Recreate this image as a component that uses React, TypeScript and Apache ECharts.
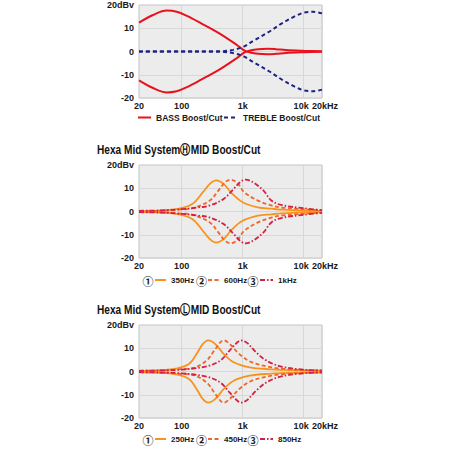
import React, { useEffect, useRef } from 'react';
import * as echarts from 'echarts';

const FONT = "'Liberation Sans', Arial, sans-serif";

// x tick labels (Hz) and y tick labels (dB)
const xTickLabels: Record<number, string> = { 20: '20', 100: '100', 1000: '1k', 10000: '{l|10k}', 20000: '{r|20kHz}' };
const yTickLabels: Record<string, string> = { '20': '20dBv', '10': '10', '0': '0', '-10': '-10', '-20': '-20' };

// ---- Chart 1: BASS / TREBLE ----
const bassFreq = [20, 34, 57, 83, 122, 209, 408, 796, 1040, 1330, 1800, 2500, 3500, 5100, 10000, 20000];
const bassBoost = [12.4, 15.7, 17.6, 17.1, 15.3, 12.1, 7.9, 2.9, 0.6, -0.4, -1.0, -1.2, -1.0, -0.6, -0.3, -0.1];
const trebleFreq = [20, 100, 300, 500, 700, 1040, 1520, 2760, 4400, 7400, 10000, 14000, 20000];
const trebleBoost = [0, 0, 0, 0.2, 0.7, 2.1, 4.7, 8.6, 12.1, 15.3, 16.7, 17.1, 16.4];

// ---- Chart 2: H MID ----
const hmid350Freq = [20, 43, 91, 151, 223, 290, 367, 488, 676, 1000, 1780, 2960, 4300, 10000, 20000];
const hmid350 = [0.2, 0.4, 1.2, 3.3, 8.3, 11.9, 13.4, 11.9, 7.6, 4.0, 1.8, 1.2, 0.8, 0.4, 0.3];
const hmid600Freq = [20, 50, 100, 151, 290, 400, 517, 633, 820, 1060, 1780, 2960, 4300, 10000, 20000];
const hmid600 = [0.2, 0.4, 0.9, 1.4, 4.7, 9.0, 12.6, 13.7, 12.3, 8.3, 4.7, 2.6, 1.7, 1.0, 0.5];
const hmid1kFreq = [20, 50, 100, 180, 290, 488, 714, 935, 1120, 1470, 2200, 2960, 4300, 10000, 20000];
const hmid1k = [0.3, 0.5, 1.0, 1.7, 2.6, 5.4, 9.7, 12.9, 13.7, 12.6, 9.0, 4.7, 2.8, 1.4, 0.6];

// ---- Chart 3: L MID ----
const lmid250Freq = [20, 43, 80, 133, 183, 223, 272, 353, 488, 714, 1300, 2960, 4300, 10000, 20000];
const lmid250 = [0.3, 0.5, 1.2, 3.3, 8.3, 11.9, 13.4, 11.9, 7.6, 4.0, 1.8, 0.9, 0.7, 0.5, 0.4];
const lmid450Freq = [20, 50, 100, 151, 255, 353, 430, 488, 610, 875, 1400, 2960, 4300, 10000, 20000];
const lmid450 = [0.3, 0.5, 1.0, 1.4, 4.7, 9.5, 12.5, 13.4, 11.9, 7.6, 4.0, 1.8, 1.2, 0.6, 0.4];
const lmid850Freq = [20, 50, 100, 255, 430, 610, 800, 935, 1180, 1660, 2450, 4300, 10000, 20000];
const lmid850 = [0.3, 0.5, 0.8, 2.2, 4.7, 9.0, 12.3, 13.4, 12.3, 8.3, 4.7, 2.1, 0.8, 0.4];

const titles = ['Hexa Mid System\u24BDMID Boost/Cut', 'Hexa Mid System\u24C1MID Boost/Cut'];

const RED = '#e8121c';
const NAVY = '#1d2380';
const ORANGE = '#f7941d';
const ORANGE2 = '#f26522';
const CRIMSON = '#d51f40';

const pairs = (f: number[], v: number[], sign = 1) => f.map((x, i) => [x, sign * v[i]]);

const gridTops = [5, 165, 325];

export default function App() {
  const ref = useRef<HTMLDivElement>(null);
  useEffect(() => {
    if (!ref.current) return;
    const chart = echarts.init(ref.current, undefined, { renderer: 'svg' });

    const lbl = { fontFamily: FONT, fontWeight: 'bold', fontSize: 9, color: '#1a1a1a' };
    const grids = gridTops.map((t) => ({
      left: 139, top: t, width: 183, height: 93,
      show: true, backgroundColor: '#ececec', borderColor: '#c4c4c4', borderWidth: 1,
    }));
    const xAxes = gridTops.map((_, i) => ({
      type: 'log', logBase: 10, min: 20, max: 20000, gridIndex: i,
      axisLine: { show: false }, axisTick: { show: false },
      splitLine: { show: true, lineStyle: { color: '#d8d8d8', width: 1 } },
      axisLabel: {
        showMinLabel: true, showMaxLabel: true, margin: 3, ...lbl,
        formatter: (v: number) => xTickLabels[Math.round(v)] ?? '',
        rich: {
          l: { ...lbl, padding: [0, 5, 0, 0] },
          r: { ...lbl, padding: [0, 0, 0, 6] },
        },
      },
    }));
    const yAxes = gridTops.map((_, i) => ({
      type: 'value', min: -20, max: 20, interval: 10, gridIndex: i,
      axisLine: { show: false }, axisTick: { show: false },
      splitLine: { show: true, lineStyle: { color: '#d8d8d8', width: 1 } },
      axisLabel: {
        margin: 5, ...lbl,
        formatter: (v: number) => yTickLabels[String(Math.round(v))] ?? '',
      },
    }));

    const line = (name: string, idx: number, data: number[][], color: string, type: any, width = 2) => ({
      type: 'line', name, xAxisIndex: idx, yAxisIndex: idx, data, smooth: 0.35,
      symbol: 'none', lineStyle: { color, type, width }, itemStyle: { color },
    });

    const dashA = [4, 2.5];
    const dashB = [5, 2, 1.5, 2];

    const series = [
      line('BASS Boost/Cut', 0, pairs(bassFreq, bassBoost), RED, 'solid', 2),
      line('BASS Boost/Cut', 0, pairs(bassFreq, bassBoost, -1), RED, 'solid', 2),
      line('TREBLE Boost/Cut', 0, pairs(trebleFreq, trebleBoost), NAVY, [4, 3], 2),
      line('TREBLE Boost/Cut', 0, pairs(trebleFreq, trebleBoost, -1), NAVY, [4, 3], 2),

      line('350Hz', 1, pairs(hmid350Freq, hmid350), ORANGE, 'solid', 1.8),
      line('350Hz', 1, pairs(hmid350Freq, hmid350, -1), ORANGE, 'solid', 1.8),
      line('600Hz', 1, pairs(hmid600Freq, hmid600), ORANGE2, dashA, 1.8),
      line('600Hz', 1, pairs(hmid600Freq, hmid600, -1), ORANGE2, dashA, 1.8),
      line('1kHz', 1, pairs(hmid1kFreq, hmid1k), CRIMSON, dashB, 1.8),
      line('1kHz', 1, pairs(hmid1kFreq, hmid1k, -1), CRIMSON, dashB, 1.8),

      line('250Hz', 2, pairs(lmid250Freq, lmid250), ORANGE, 'solid', 1.8),
      line('250Hz', 2, pairs(lmid250Freq, lmid250, -1), ORANGE, 'solid', 1.8),
      line('450Hz', 2, pairs(lmid450Freq, lmid450), ORANGE2, dashA, 1.8),
      line('450Hz', 2, pairs(lmid450Freq, lmid450, -1), ORANGE2, dashA, 1.8),
      line('850Hz', 2, pairs(lmid850Freq, lmid850), CRIMSON, dashB, 1.8),
      line('850Hz', 2, pairs(lmid850Freq, lmid850, -1), CRIMSON, dashB, 1.8),
    ];

    const leg = (name: string, left: number, top: number, w: number, fs: number) => ({
      data: [name], left, top, itemWidth: w, itemHeight: 10, padding: 0, itemGap: 0,
      selectedMode: false, textStyle: { ...lbl, fontSize: fs }, itemStyle: { opacity: 0, borderWidth: 0 },
    });
    const legends = [
      leg('BASS Boost/Cut', 137, 113, 13, 8.5),
      leg('TREBLE Boost/Cut', 223, 113, 14, 8.5),
      leg('350Hz', 154, 276, 11, 8),
      leg('600Hz', 207, 276, 11, 8),
      leg('1kHz', 259, 276, 13, 8),
      leg('250Hz', 154, 435, 11, 8),
      leg('450Hz', 207, 435, 11, 8),
      leg('850Hz', 259, 435, 13, 8),
    ];

    const circ = (txt: string, x: number, y: number) => ({
      type: 'text', x, y,
      style: { text: txt, fontFamily: "'Noto Sans CJK JP', 'DejaVu Sans', sans-serif", fontSize: 11, fontWeight: 'bold', fill: '#1a1a1a', verticalAlign: 'middle', align: 'center' },
    });
    const ttl = (txt: string, y: number) => ({
      type: 'text', x: 97, y, scaleX: 0.78,
      style: { text: txt, fontFamily: FONT, fontSize: 13, fontWeight: 'bold', fill: '#111', verticalAlign: 'middle', align: 'left' },
    });

    const option = {
      animation: false,
      grid: grids,
      xAxis: xAxes,
      yAxis: yAxes,
      legend: legends,
      series,
      graphic: [
        ttl(titles[0], 149), ttl(titles[1], 309),
        circ('\u2460', 148, 281), circ('\u2461', 201.5, 281), circ('\u2462', 253, 281),
        circ('\u2460', 148, 440), circ('\u2461', 201.5, 440), circ('\u2462', 253, 440),
      ],
    };
    chart.setOption(option as any);
    return () => chart.dispose();
  }, []);
  return <div ref={ref} style={{ position: 'fixed', left: 0, top: 0, width: 450, height: 450, background: '#fff' }} />;
}
